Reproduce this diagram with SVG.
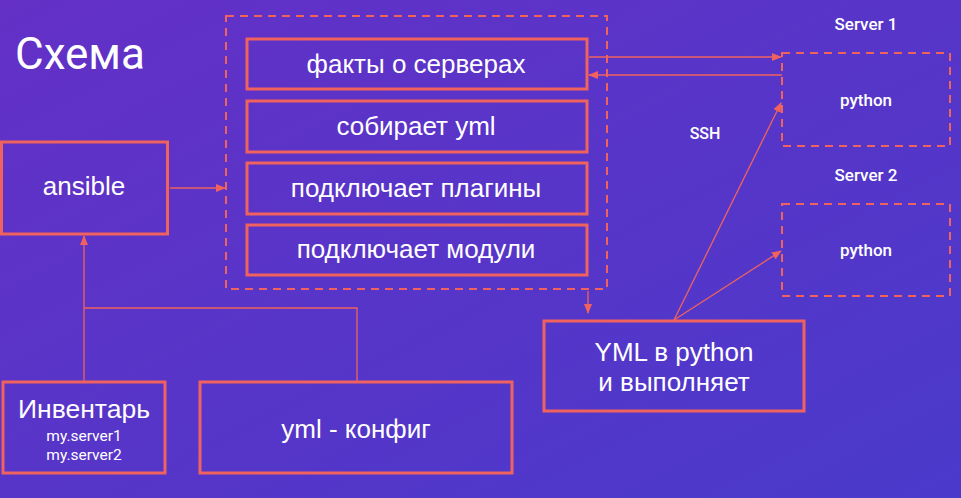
<svg xmlns="http://www.w3.org/2000/svg" width="961" height="498" viewBox="0 0 961 498">
<defs>
<linearGradient id="bg" x1="0" y1="0" x2="1" y2="1">
<stop offset="0" stop-color="#6430c6"/>
<stop offset="1" stop-color="#4a3acb"/>
</linearGradient>
<marker id="ah" markerWidth="10" markerHeight="8" refX="9" refY="4" orient="auto" markerUnits="userSpaceOnUse">
<path d="M0,0 L10,4 L0,8 Z" fill="#f0625e"/>
</marker>
<style>
.box{fill:none;stroke:#f0625e;stroke-width:3}
.dash{fill:none;stroke:#f0625e;stroke-width:2;stroke-dasharray:8 6}
.con{fill:none;stroke:#f0625e;stroke-width:1.3}
text{font-family:"Liberation Sans",Arial,sans-serif;fill:#ffffff;text-anchor:middle}
.t{font-size:26px}
.s{font-family:Roboto,"Liberation Sans",sans-serif;font-size:17px;font-weight:500}
</style>
</defs>
<rect width="961" height="498" fill="url(#bg)"/>
<text x="15" y="69" style="font-family:Roboto,'Liberation Sans',sans-serif;font-size:44px;text-anchor:start">Схема</text>
<g id="connectors">
<line class="con" x1="170" y1="188" x2="225" y2="188" marker-end="url(#ah)"/>
<line class="con" x1="589" y1="57" x2="781" y2="57" marker-end="url(#ah)"/>
<line class="con" x1="782" y1="75" x2="589" y2="75" marker-end="url(#ah)"/>
<line class="con" x1="674" y1="320" x2="781" y2="103" marker-end="url(#ah)"/>
<line class="con" x1="674" y1="320" x2="781" y2="251" marker-end="url(#ah)"/>
<line class="con" x1="588" y1="291" x2="588" y2="313" marker-end="url(#ah)"/>
<line class="con" x1="84" y1="382" x2="84" y2="236" marker-end="url(#ah)"/>
<polyline class="con" points="84,308 357,308 357,382"/>
</g>
<text x="705" y="139" class="s" style="font-size:16px">SSH</text>
<g id="ansible">
<rect class="box" x="1.5" y="142" width="166" height="92"/>
<text x="84" y="195" class="t">ansible</text>
</g>
<g id="process">
<rect class="dash" x="226" y="16" width="381" height="273"/>
</g>
<g id="facts">
<rect class="box" x="247" y="39" width="340" height="50"/>
<text x="416" y="73" class="t">факты о серверах</text>
</g>
<g id="collect">
<rect class="box" x="247" y="101" width="340" height="51"/>
<text x="416" y="135" class="t">собирает yml</text>
</g>
<g id="plugins">
<rect class="box" x="247" y="163" width="340" height="51"/>
<text x="416" y="197" class="t">подключает плагины</text>
</g>
<g id="modules">
<rect class="box" x="247" y="225" width="340" height="50"/>
<text x="416" y="258" class="t">подключает модули</text>
</g>
<g id="server1">
<text x="866" y="30" class="s">Server 1</text>
<rect class="dash" x="782" y="53" width="168" height="93"/>
<text x="866" y="106" class="s">python</text>
</g>
<g id="server2">
<text x="866" y="181" class="s">Server 2</text>
<rect class="dash" x="782" y="204" width="168" height="92"/>
<text x="866" y="256" class="s">python</text>
</g>
<g id="yml-python">
<rect class="box" x="544" y="321" width="260" height="90"/>
<text x="674" y="361" class="t">YML в python</text>
<text x="674" y="391" class="t">и выполняет</text>
</g>
<g id="inventory">
<rect class="box" x="3" y="382" width="162" height="91"/>
<text x="84" y="418" style="font-size:26.5px">Инвентарь</text>
<text x="84" y="441" style="font-family:Roboto,'Liberation Sans',sans-serif;font-size:15.5px">my.server1</text>
<text x="84" y="460" style="font-family:Roboto,'Liberation Sans',sans-serif;font-size:15.5px">my.server2</text>
</g>
<g id="yml-config">
<rect class="box" x="200" y="382" width="312" height="91"/>
<text x="356" y="438" class="t">yml - конфиг</text>
</g>
</svg>
